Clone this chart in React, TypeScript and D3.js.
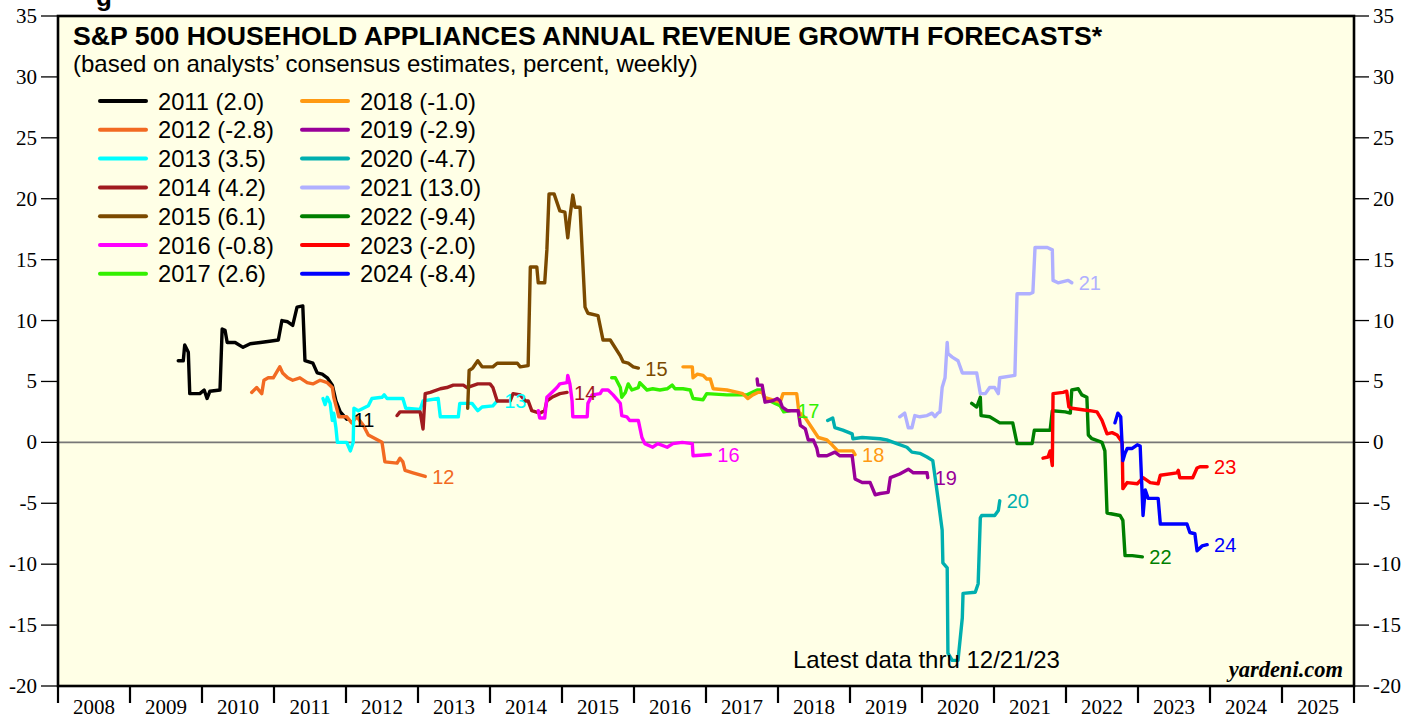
import React from 'react';
import * as d3 from 'd3';

type Pt = [number, number];

// Forecast series: [decimal year, annual revenue growth forecast %]
const s2011: Pt[] = [[2009.67,6.7],[2009.74,6.7],[2009.76,8.0],[2009.81,7.4],[2009.83,4.0],[2009.97,4.0],[2010.03,4.3],[2010.07,3.6],[2010.11,4.2],[2010.25,4.3],[2010.28,9.3],[2010.32,9.2],[2010.35,8.2],[2010.46,8.2],[2010.57,7.8],[2010.67,8.1],[2010.81,8.2],[2010.94,8.3],[2011.06,8.4],[2011.11,10.0],[2011.19,9.9],[2011.26,9.6],[2011.32,11.1],[2011.40,11.2],[2011.43,6.7],[2011.54,6.5],[2011.60,5.7],[2011.67,5.6],[2011.74,5.3],[2011.81,4.7],[2011.86,3.4],[2011.92,2.5],[2012.01,1.9]];
const s2012: Pt[] = [[2010.69,4.1],[2010.76,4.5],[2010.83,4.0],[2010.86,5.1],[2010.92,5.3],[2010.99,5.3],[2011.08,6.2],[2011.12,5.7],[2011.19,5.3],[2011.26,5.1],[2011.36,5.3],[2011.46,4.9],[2011.54,4.8],[2011.64,5.1],[2011.74,4.9],[2011.81,4.5],[2011.83,3.7],[2011.88,2.6],[2011.90,2.1],[2012.01,2.1],[2012.08,1.6],[2012.15,2.1],[2012.24,1.4],[2012.31,0.6],[2012.50,0.0],[2012.54,-1.6],[2012.71,-1.7],[2012.75,-1.3],[2012.79,-1.6],[2012.82,-2.3],[2012.93,-2.5],[2013.10,-2.8]];
const s2013: Pt[] = [[2011.68,3.6],[2011.71,3.1],[2011.74,3.7],[2011.78,3.2],[2011.81,1.8],[2011.83,2.4],[2011.86,1.2],[2011.88,0.0],[2012.01,0.0],[2012.06,-0.7],[2012.10,0.0],[2012.11,2.8],[2012.17,2.6],[2012.24,2.8],[2012.31,3.0],[2012.36,3.6],[2012.50,3.7],[2012.53,3.9],[2012.57,3.6],[2012.79,3.6],[2012.83,2.8],[2013.03,2.7],[2013.07,3.4],[2013.28,3.6],[2013.31,2.1],[2013.56,2.1],[2013.58,3.2],[2013.75,3.2],[2013.83,2.6],[2013.89,2.9],[2014.04,3.0],[2014.10,3.4]];
const s2014: Pt[] = [[2012.71,2.2],[2012.75,2.5],[2013.03,2.5],[2013.07,1.1],[2013.10,4.0],[2013.17,4.1],[2013.31,4.4],[2013.40,4.5],[2013.49,4.7],[2013.63,4.7],[2013.68,4.5],[2013.83,4.8],[2014.00,4.8],[2014.04,4.5],[2014.10,3.4],[2014.28,3.4],[2014.32,4.0],[2014.42,3.9],[2014.49,3.4],[2014.53,3.4],[2014.58,2.6],[2014.69,2.4],[2014.76,2.6],[2014.79,3.4],[2014.86,3.7],[2014.97,4.0],[2015.07,4.1]];
const s2015: Pt[] = [[2013.69,2.8],[2013.71,5.9],[2013.76,6.1],[2013.83,6.7],[2013.89,6.2],[2014.04,6.2],[2014.10,6.5],[2014.38,6.5],[2014.42,6.2],[2014.53,6.3],[2014.56,14.4],[2014.65,14.4],[2014.67,13.1],[2014.76,13.1],[2014.79,15.8],[2014.82,20.4],[2014.89,20.4],[2014.93,19.7],[2014.97,19.0],[2015.04,18.9],[2015.08,16.8],[2015.11,18.5],[2015.15,20.3],[2015.18,19.3],[2015.25,19.3],[2015.32,11.1],[2015.36,10.6],[2015.50,10.4],[2015.57,8.4],[2015.67,8.4],[2015.81,7.1],[2015.85,6.6],[2015.92,6.5],[2015.99,6.2],[2016.06,6.1]];
const s2016: Pt[] = [[2014.67,2.6],[2014.69,2.0],[2014.76,2.0],[2014.79,3.7],[2014.86,4.1],[2014.93,4.5],[2014.97,4.8],[2015.07,4.9],[2015.08,5.5],[2015.11,4.8],[2015.14,3.4],[2015.15,2.1],[2015.35,2.1],[2015.36,3.2],[2015.42,3.9],[2015.53,4.0],[2015.56,4.3],[2015.64,4.3],[2015.71,3.9],[2015.81,3.2],[2015.83,2.2],[2015.90,2.1],[2015.94,1.8],[2016.06,1.8],[2016.11,0.4],[2016.15,-0.1],[2016.26,-0.4],[2016.33,-0.1],[2016.46,-0.4],[2016.54,-0.1],[2016.67,0.0],[2016.81,-0.1],[2016.82,-1.1],[2017.06,-1.0]];
const s2017: Pt[] = [[2015.69,5.3],[2015.74,5.3],[2015.81,4.5],[2015.83,3.7],[2015.88,4.1],[2015.92,4.8],[2015.97,4.3],[2016.06,4.5],[2016.08,4.9],[2016.18,4.3],[2016.26,4.4],[2016.36,4.3],[2016.46,4.4],[2016.53,4.7],[2016.57,4.4],[2016.68,4.4],[2016.78,4.3],[2016.82,3.6],[2016.96,3.5],[2017.01,4.0],[2017.29,3.9],[2017.57,3.9],[2017.71,4.3],[2017.78,4.3],[2017.82,3.6],[2017.96,3.2],[2018.03,3.0],[2018.08,2.5],[2018.17,2.6]];
const s2018: Pt[] = [[2016.68,6.2],[2016.81,6.2],[2016.82,5.3],[2016.88,5.6],[2016.96,5.5],[2017.01,5.2],[2017.06,5.2],[2017.10,4.4],[2017.29,4.3],[2017.44,4.1],[2017.51,4.0],[2017.58,3.6],[2017.65,3.9],[2017.72,4.1],[2017.78,4.1],[2017.81,3.7],[2018.03,3.3],[2018.07,4.0],[2018.26,4.0],[2018.29,2.5],[2018.38,2.0],[2018.47,1.2],[2018.56,0.4],[2018.68,0.2],[2018.75,-0.2],[2018.83,-0.7],[2019.04,-0.7],[2019.07,-1.0]];
const s2019: Pt[] = [[2017.71,5.2],[2017.72,4.7],[2017.78,4.7],[2017.82,3.3],[2017.92,3.4],[2017.99,3.6],[2018.03,3.4],[2018.06,2.9],[2018.13,2.6],[2018.28,2.6],[2018.31,1.4],[2018.38,1.1],[2018.42,0.2],[2018.49,0.2],[2018.54,-0.5],[2018.56,-1.1],[2018.68,-1.1],[2018.79,-0.8],[2018.86,-1.1],[2019.03,-1.1],[2019.07,-3.0],[2019.17,-3.3],[2019.28,-3.3],[2019.35,-4.3],[2019.42,-4.2],[2019.53,-4.1],[2019.56,-2.9],[2019.69,-2.6],[2019.81,-2.2],[2019.88,-2.5],[2020.07,-2.5],[2020.08,-2.9]];
const s2020: Pt[] = [[2018.69,1.8],[2018.76,2.0],[2018.79,1.2],[2018.90,1.0],[2019.03,0.7],[2019.04,0.3],[2019.17,0.4],[2019.42,0.3],[2019.51,0.2],[2019.65,-0.1],[2019.79,-0.4],[2019.86,-0.8],[2019.97,-0.9],[2020.07,-1.2],[2020.15,-1.5],[2020.22,-4.5],[2020.28,-7.2],[2020.29,-9.9],[2020.35,-10.3],[2020.36,-17.3],[2020.42,-17.9],[2020.50,-17.9],[2020.56,-14.4],[2020.57,-12.4],[2020.74,-12.3],[2020.78,-11.6],[2020.81,-6.2],[2020.83,-6.0],[2021.01,-6.0],[2021.06,-5.6],[2021.08,-4.8]];
const s2021: Pt[] = [[2019.69,2.1],[2019.76,2.4],[2019.81,1.2],[2019.86,1.2],[2019.90,2.2],[2019.97,2.1],[2020.07,2.2],[2020.14,2.4],[2020.18,2.1],[2020.22,2.4],[2020.25,2.5],[2020.28,4.5],[2020.32,5.3],[2020.35,8.2],[2020.36,7.3],[2020.42,7.0],[2020.50,6.7],[2020.56,5.7],[2020.76,5.7],[2020.81,4.0],[2020.88,4.0],[2020.94,4.5],[2021.01,4.5],[2021.06,4.0],[2021.08,5.3],[2021.29,5.5],[2021.32,12.2],[2021.50,12.2],[2021.54,12.3],[2021.57,16.0],[2021.74,16.0],[2021.81,15.8],[2021.82,13.3],[2021.89,13.1],[2022.03,13.3],[2022.08,13.1]];
const s2022: Pt[] = [[2020.69,3.2],[2020.76,2.9],[2020.81,3.7],[2020.82,2.2],[2020.94,2.1],[2021.08,1.6],[2021.26,1.6],[2021.32,-0.1],[2021.53,-0.1],[2021.56,1.0],[2021.78,1.0],[2021.81,2.6],[2021.99,2.5],[2022.06,2.4],[2022.08,4.3],[2022.17,4.4],[2022.22,3.9],[2022.29,3.7],[2022.31,0.6],[2022.36,0.3],[2022.50,0.0],[2022.54,-0.7],[2022.57,-5.8],[2022.75,-6.0],[2022.79,-6.4],[2022.82,-9.3],[2022.92,-9.3],[2023.06,-9.4]];
const s2023: Pt[] = [[2021.68,-1.3],[2021.75,-1.2],[2021.78,-0.7],[2021.81,-1.9],[2021.82,4.0],[2021.96,4.1],[2022.01,4.2],[2022.04,2.9],[2022.08,2.8],[2022.33,2.6],[2022.43,2.5],[2022.50,1.8],[2022.57,0.7],[2022.64,0.8],[2022.71,0.6],[2022.78,0.0],[2022.79,-3.8],[2022.85,-3.3],[2022.99,-3.4],[2023.07,-2.9],[2023.17,-3.3],[2023.28,-3.4],[2023.31,-2.7],[2023.54,-2.5],[2023.56,-2.3],[2023.58,-2.9],[2023.76,-2.9],[2023.82,-2.1],[2023.86,-2.0],[2023.96,-2.0]];
const s2024: Pt[] = [[2022.68,1.6],[2022.72,2.4],[2022.76,2.1],[2022.79,-1.5],[2022.82,-0.9],[2022.85,-0.5],[2022.92,-0.5],[2022.99,-0.2],[2023.03,-0.3],[2023.07,-6.0],[2023.10,-3.9],[2023.14,-4.6],[2023.28,-4.6],[2023.31,-6.7],[2023.68,-6.7],[2023.72,-7.4],[2023.79,-7.5],[2023.82,-8.9],[2023.89,-8.5],[2023.96,-8.4]];

const seriesYears = ['2011','2012','2013','2014','2015','2016','2017','2018','2019','2020','2021','2022','2023','2024'];
const seriesData: Pt[][] = [s2011,s2012,s2013,s2014,s2015,s2016,s2017,s2018,s2019,s2020,s2021,s2022,s2023,s2024];
const finalValues = ['2.0','-2.8','3.5','4.2','6.1','-0.8','2.6','-1.0','-2.9','-4.7','13.0','-9.4','-2.0','-8.4'];
const endLabels = ['11','12','13','14','15','16','17','18','19','20','21','22','23','24'];
const colors = ['#000000','#F26A22','#00FFFF','#A01B1F','#7B4A00','#FF00FF','#33F000','#FF9A12','#990099','#00AFAF','#B0B0FF','#007F00','#FF0000','#0000FF'];

const yTicks = [-20,-15,-10,-5,0,5,10,15,20,25,30,35];
const xYears = d3.range(2008, 2026);

const SANS = 'Arial, "Liberation Sans", Helvetica, sans-serif';
const SERIF = '"Times New Roman", "Liberation Serif", Times, serif';

export default function App() {
  const W = 1419, H = 719;
  const L = 58, R = 1354, T = 16, B = 686;
  const x = d3.scaleLinear().domain([2008, 2026]).range([L, R]);
  const y = d3.scaleLinear().domain([-20, 35]).range([B, T]);
  const line = d3.line<Pt>().x(d => x(d[0])).y(d => y(d[1]));

  return (
    <svg width={W} height={H} style={{ position: 'absolute', left: 0, top: 0, background: '#fff' }}>
      <rect x={L} y={T} width={R - L} height={B - T} fill="#FFFFE6" />
      <text x={96} y={6} fontFamily={SANS} fontWeight="bold" fontSize={26} fill="#000">g</text>
      {/* zero line */}
      <line x1={L} x2={R} y1={y(0)} y2={y(0)} stroke="#777" strokeWidth={1.6} />
      {/* series */}
      {seriesData.map((d, i) => (
        <path key={i} d={line(d) || ''} fill="none" stroke={colors[i]} strokeWidth={3.4}
          strokeLinejoin="round" strokeLinecap="round" />
      ))}
      {seriesData.map((d, i) => {
        const last = d[d.length - 1];
        return (
          <text key={'l' + i} x={x(last[0]) + 7} y={y(last[1]) + 7.5} fontFamily={SANS} fontSize={20}
            fill={colors[i]}>{endLabels[i]}</text>
        );
      })}
      {/* frame */}
      <rect x={L} y={T} width={R - L} height={B - T} fill="none" stroke="#000" strokeWidth={2.6} />
      {/* y ticks */}
      {yTicks.map(t => (
        <g key={'y' + t}>
          <line x1={L - 17} x2={L} y1={y(t)} y2={y(t)} stroke="#000" strokeWidth={1.3} />
          <text x={37} y={y(t) + 7} textAnchor="end" fontFamily={SERIF} fontSize={21} fill="#000">{t}</text>
          <line x1={R} x2={R + 15} y1={y(t)} y2={y(t)} stroke="#000" strokeWidth={1.3} />
          <text x={R + 19} y={y(t) + 7} textAnchor="start" fontFamily={SERIF} fontSize={21} fill="#000">{t}</text>
        </g>
      ))}
      {/* x ticks */}
      {d3.range(2008, 2027).map(yr => (
        <line key={'xt' + yr} x1={x(yr)} x2={x(yr)} y1={B} y2={B + 17} stroke="#000" strokeWidth={2.2} />
      ))}
      {xYears.map(yr => (
        <text key={'xl' + yr} x={x(yr + 0.5)} y={714} textAnchor="middle" fontFamily={SERIF} fontSize={21} fill="#000">{yr}</text>
      ))}
      {/* titles */}
      <text x={73} y={45} fontFamily={SANS} fontWeight="bold" fontSize={26.7} fill="#000">S&amp;P 500 HOUSEHOLD APPLIANCES ANNUAL REVENUE GROWTH FORECASTS*</text>
      <text x={73} y={72} fontFamily={SANS} fontSize={24} fill="#000">(based on analysts’ consensus estimates, percent, weekly)</text>
      {/* legend */}
      {seriesYears.map((s, i) => {
        const col = i < 7 ? 0 : 1;
        const row = i % 7;
        const lx = col === 0 ? 100 : 302;
        const ly = 101 + row * 28.8;
        return (
          <g key={'lg' + i}>
            <line x1={lx} x2={lx + 46} y1={ly} y2={ly} stroke={colors[i]} strokeWidth={4} strokeLinecap="round" />
            <text x={lx + 58} y={ly + 8.5} fontFamily={SANS} fontSize={23.7} fill="#000">{`${s} (${finalValues[i]})`}</text>
          </g>
        );
      })}
      <text x={793} y={668} fontFamily={SANS} fontSize={24} fill="#000">Latest data thru 12/21/23</text>
      <text x={1343} y={677} textAnchor="end" fontFamily={SERIF} fontWeight="bold" fontStyle="italic" fontSize={22.5} fill="#000">yardeni.com</text>
    </svg>
  );
}
